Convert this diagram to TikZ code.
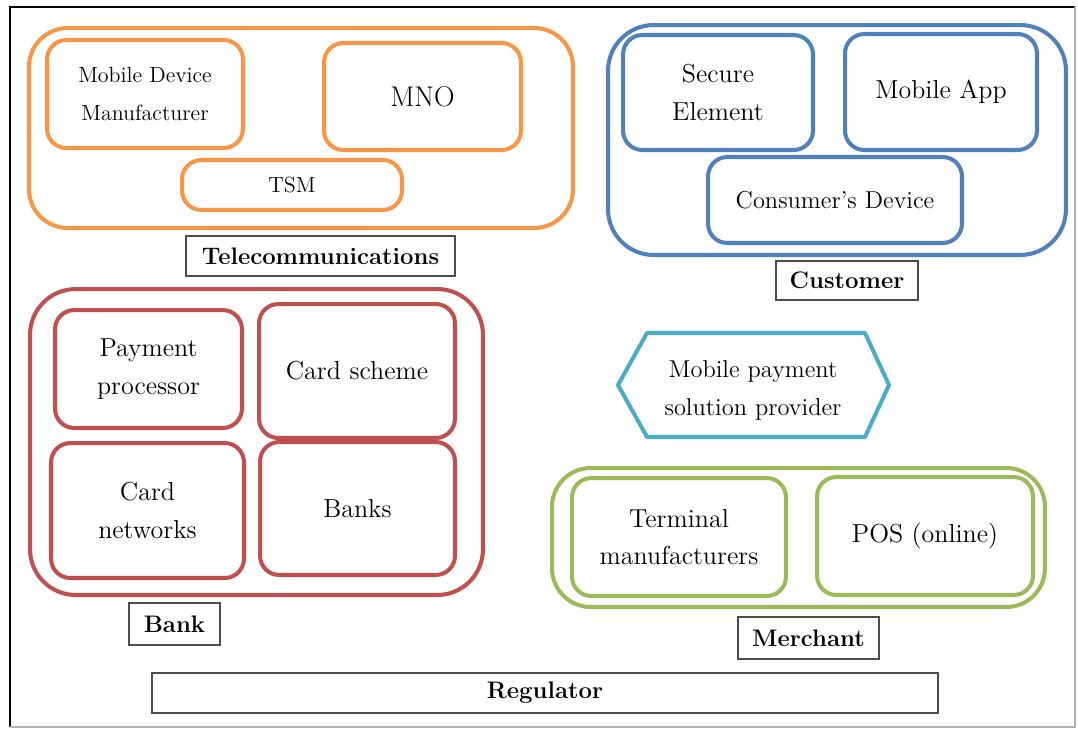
\documentclass[tikz,border=0pt]{standalone}

\definecolor{telorange}{HTML}{F79646}
\definecolor{custblue}{HTML}{4F81BD}
\definecolor{bankred}{HTML}{C0504D}
\definecolor{merchgreen}{HTML}{9BBB59}
\definecolor{provaqua}{HTML}{4BACC6}

\tikzset{
  group/.style={draw=#1, line width=2.3pt, rounded corners=22pt, inner sep=0pt},
  part/.style={draw=#1, line width=2.3pt, rounded corners=11pt, inner sep=0pt,
    align=center, font=\fontsize{14.8}{21.5}\selectfont},
  small/.style={font=\fontsize{12.5}{21.5}\selectfont},
  tag/.style={draw=black!70, line width=0.8pt, inner sep=0pt,
    font=\fontsize{13.6}{16}\selectfont\bfseries}
}

\begin{document}
\begin{tikzpicture}[x=0.02cm,y=-0.02cm]
\useasboundingbox (0,0) rectangle (1078,728);
% page frame
\draw[black, line width=1.2pt] (10,727) -- (10,7) -- (1075,7);
\draw[black!30, line width=0.8pt] (1075,7) -- (1075,727) -- (10,727);

% telecommunications
\node[group=telorange, minimum width=10.88cm, minimum height=4cm] (tel) at (301,128) {};
\node[part=telorange, small, minimum width=3.92cm, minimum height=2.16cm] (mdm) at (145,94) {Mobile Device\\Manufacturer};
\node[part=telorange, minimum width=3.94cm, minimum height=2.14cm, font=\fontsize{16.2}{21}\selectfont] (mno) at (422.5,96.5) {MNO};
\node[part=telorange, small, minimum width=4.4cm, minimum height=1cm] (tsm) at (292,185) {TSM};
\node[tag, minimum width=5.38cm, minimum height=0.8cm] (tellabel) at (320.5,256) {Telecommunications};

% customer
\node[group=custblue, rounded corners=26pt, minimum width=9.16cm, minimum height=4.6cm] (cust) at (837,140) {};
\node[part=custblue, minimum width=3.8cm, minimum height=2.3cm] (se) at (718,92.5) {Secure\\Element};
\node[part=custblue, minimum width=3.84cm, minimum height=2.32cm] (app) at (941,92) {Mobile App};
\node[part=custblue, minimum width=5.08cm, minimum height=1.72cm, font=\fontsize{13.9}{21}\selectfont] (dev) at (835,200) {Consumer's Device};
\node[tag, minimum width=2.84cm, minimum height=0.78cm] (custlabel) at (847,280.5) {Customer};

% bank
\node[group=bankred, rounded corners=26pt, minimum width=9.06cm, minimum height=6.12cm] (bank) at (256.5,442) {};
\node[part=bankred, minimum width=3.74cm, minimum height=2.36cm] (proc) at (148.5,369) {Payment\\processor};
\node[part=bankred, minimum width=3.92cm, minimum height=2.68cm] (scheme) at (357,371) {Card scheme};
\node[part=bankred, minimum width=3.86cm, minimum height=2.7cm] (netw) at (147.5,510.5) {Card\\networks};
\node[part=bankred, minimum width=3.9cm, minimum height=2.66cm] (banks) at (357.5,508.5) {Banks};
\node[tag, minimum width=1.82cm, minimum height=0.84cm] (banklabel) at (174.5,624) {Bank};

% solution provider
\draw[provaqua, line width=2.3pt, line join=round]
  (618,385) -- (647,333) -- (865,333) -- (889,385) -- (865,437) -- (647,437) -- cycle;
\node[align=center, font=\fontsize{13.9}{21.5}\selectfont] (mpsp) at (753,390) {Mobile payment\\solution provider};

% merchant
\node[group=merchgreen, minimum width=9.86cm, minimum height=2.78cm] (merch) at (798.5,537.5) {};
\node[part=merchgreen, minimum width=4.28cm, minimum height=2.36cm] (term) at (679,537) {Terminal\\manufacturers};
\node[part=merchgreen, minimum width=4.32cm, minimum height=2.36cm] (pos) at (925,536) {POS (online)};
\node[tag, minimum width=2.82cm, minimum height=0.84cm] (merchlabel) at (808.5,638) {Merchant};

% regulator
\node[tag, minimum width=15.72cm, minimum height=0.8cm] (reg) at (545,693) {Regulator};
\end{tikzpicture}
\end{document}
